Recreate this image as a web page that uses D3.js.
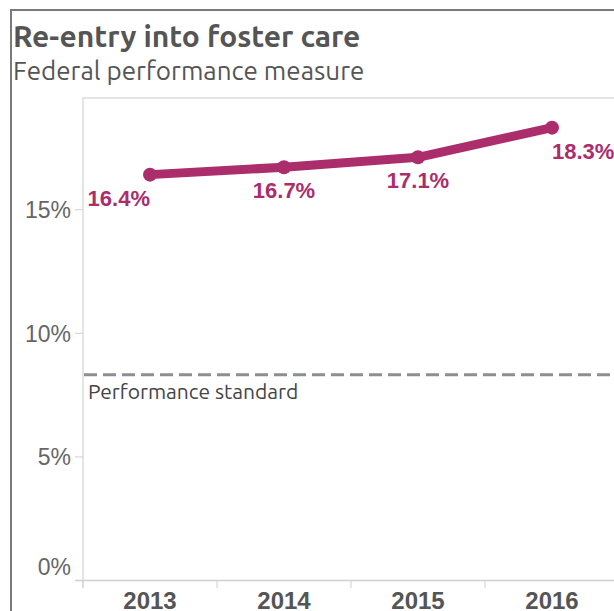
<!DOCTYPE html>
<html>
<head>
<meta charset="utf-8">
<script src="https://cdn.jsdelivr.net/npm/d3@7"></script>
<style>
  html, body { margin: 0; padding: 0; background: #fff; overflow: hidden; }
  svg { display: block; }
</style>
</head>
<body>
<div id="app"></div>
<script>
// data
var years = ["2013", "2014", "2015", "2016"];
var rates = [16.4, 16.7, 17.1, 18.3];
var standard = [8.3];
var yTicks = [0, 5, 10, 15];

var width = 614, height = 611;
var plotLeft = 83, plotTop = 98, plotRight = 619, plotBottom = 580;
var color = "#ab2d6b";

var svg = d3.select("#app").append("svg")
    .attr("width", width)
    .attr("height", height);

// outer frame
svg.append("path")
    .attr("d", "M11," + height + "V10H" + width)
    .attr("fill", "none")
    .attr("stroke", "#7a7a7a")
    .attr("stroke-width", 2);

svg.append("text")
    .attr("x", 13).attr("y", 47)
    .attr("font-family", "Ubuntu, 'Noto Sans', sans-serif")
    .attr("font-weight", "bold")
    .attr("font-size", 30)
    .attr("fill", "#555")
    .text("Re-entry into foster care");

svg.append("text")
    .attr("x", 13).attr("y", 80)
    .attr("font-family", "Ubuntu, 'Noto Sans', sans-serif")
    .attr("font-size", 26)
    .attr("fill", "#555")
    .text("Federal performance measure");

var x = d3.scaleBand().domain(years).range([plotLeft, plotRight]);
var y = d3.scaleLinear().domain([0, 19.5]).range([plotBottom, plotTop]);

// plot frame (top + left)
svg.append("path")
    .attr("d", "M" + plotLeft + "," + (plotBottom + 8) + "V" + plotTop + "H" + width)
    .attr("fill", "none")
    .attr("stroke", "#dcdcdc")
    .attr("stroke-width", 1.5);

// y axis
var yAxis = svg.append("g")
    .attr("transform", "translate(" + plotLeft + ",0)")
    .call(d3.axisLeft(y).tickValues(yTicks).tickSize(8).tickPadding(4)
        .tickFormat(function(d) { return d + "%"; }));
yAxis.select(".domain").remove();
yAxis.selectAll(".tick line").attr("stroke", "#d0d0d0");
yAxis.selectAll(".tick text")
    .attr("font-family", "Arial, 'Liberation Sans', sans-serif")
    .attr("font-size", 23)
    .attr("fill", "#666")
    .attr("dy", "0.36em");
yAxis.selectAll(".tick").filter(function(d) { return d === 0; })
    .select("text").attr("dy", "-0.25em");

// x axis
var xAxis = svg.append("g")
    .attr("transform", "translate(0," + plotBottom + ")");
xAxis.append("line")
    .attr("x1", plotLeft - 8).attr("x2", width)
    .attr("y1", 0.5).attr("y2", 0.5)
    .attr("stroke", "#d0d0d0").attr("stroke-width", 1.5);
xAxis.selectAll(".sep")
    .data(years)
    .enter().append("line")
    .attr("x1", function(d) { return x(d); })
    .attr("x2", function(d) { return x(d); })
    .attr("y1", 0).attr("y2", 8)
    .attr("stroke", "#d0d0d0");
xAxis.selectAll(".yr")
    .data(years)
    .enter().append("text")
    .attr("x", function(d) { return x(d) + x.bandwidth() / 2; })
    .attr("y", 29)
    .attr("text-anchor", "middle")
    .attr("font-family", "Arial, 'Liberation Sans', sans-serif")
    .attr("font-weight", "bold")
    .attr("font-size", 24)
    .attr("fill", "#555")
    .text(function(d) { return d; });

// performance standard
svg.selectAll(".std")
    .data(standard)
    .enter().append("line")
    .attr("x1", plotLeft + 1).attr("x2", width)
    .attr("y1", function(d) { return y(d); })
    .attr("y2", function(d) { return y(d); })
    .attr("stroke", "#8a8f94")
    .attr("stroke-width", 3)
    .attr("stroke-dasharray", "13,6");
svg.append("text")
    .attr("x", plotLeft + 5).attr("y", y(standard[0]) + 24)
    .attr("font-family", "Ubuntu, 'Noto Sans', sans-serif")
    .attr("font-size", 21)
    .attr("fill", "#444")
    .text("Performance standard");

// line
var pts = years.map(function(d, i) { return { year: d, v: rates[i] }; });
var cx = function(d) { return x(d.year) + x.bandwidth() / 2; };

svg.append("path")
    .datum(pts)
    .attr("fill", "none")
    .attr("stroke", color)
    .attr("stroke-width", 9)
    .attr("stroke-linejoin", "round")
    .attr("d", d3.line().x(cx).y(function(d) { return y(d.v); }));

svg.selectAll(".dot")
    .data(pts)
    .enter().append("circle")
    .attr("cx", cx)
    .attr("cy", function(d) { return y(d.v); })
    .attr("r", 7)
    .attr("fill", color);

var anchors = ["end", "middle", "middle", "start"];
svg.selectAll(".lbl")
    .data(pts)
    .enter().append("text")
    .attr("x", cx)
    .attr("y", function(d) { return y(d.v) + 31; })
    .attr("text-anchor", function(d, i) { return anchors[i]; })
    .attr("font-family", "Arial, 'Liberation Sans', sans-serif")
    .attr("font-weight", "bold")
    .attr("font-size", 22)
    .attr("fill", color)
    .text(function(d) { return d.v.toFixed(1) + "%"; });
</script>
</body>
</html>
